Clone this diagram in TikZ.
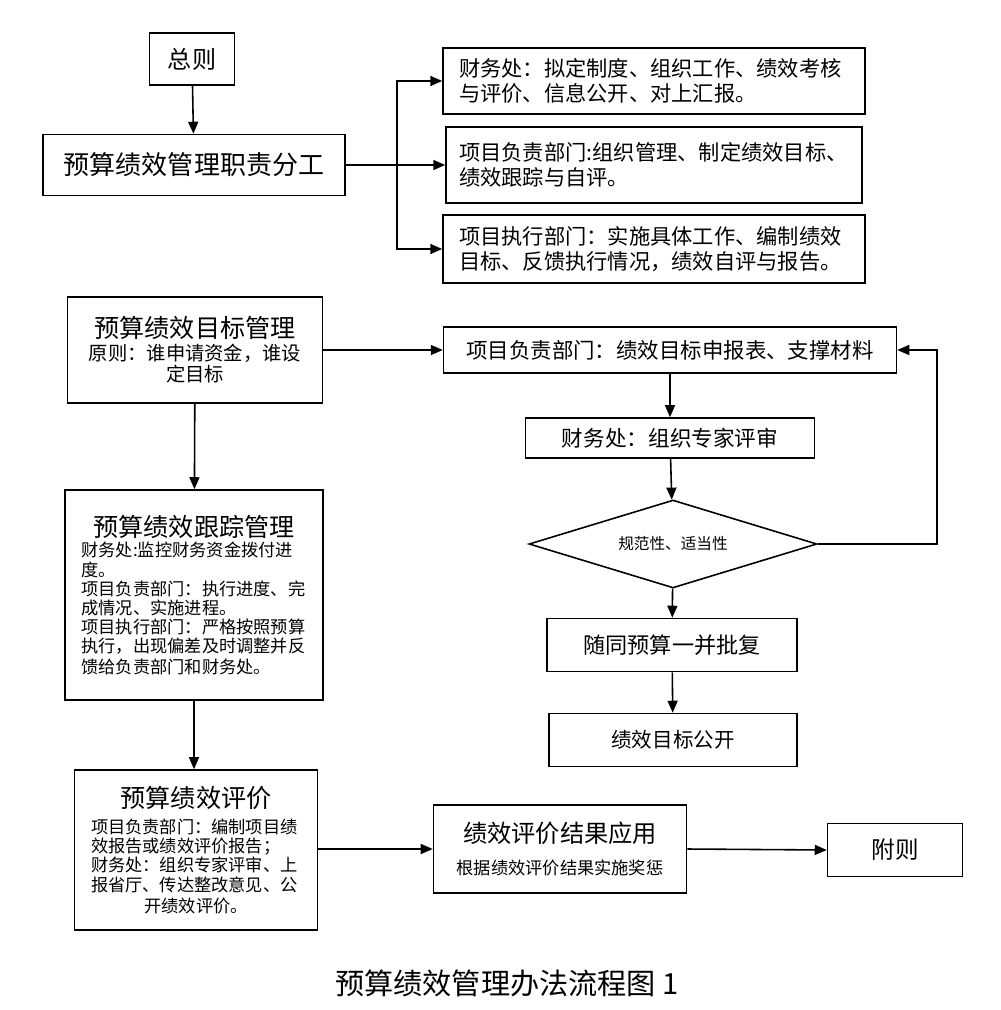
\documentclass[tikz,border=0pt]{standalone}
\usepackage{fontspec}
\setmainfont{Noto Sans CJK SC}
\usetikzlibrary{shapes.geometric,arrows.meta}
\newcommand{\titlefont}{\fontsize{14.3pt}{16pt}\selectfont}
\newcommand{\notefont}{\fontsize{9.8pt}{10.9pt}\selectfont}

\begin{document}
\begin{tikzpicture}
 [x=0.02cm, y=-0.02cm,
  line width=0.9pt,
  box/.style={draw, inner sep=0pt, align=center},
  rbox/.style={draw, inner sep=0pt, align=left, font=\fontsize{12.1pt}{14pt}\selectfont},
  arr/.style={-{Triangle[length=2.4mm,width=2mm]}}]

  \useasboundingbox (0,0) rectangle (1000,1010);

  % top part
  \node[box, font=\fontsize{13.7pt}{15pt}\selectfont, minimum width=1.7cm, minimum height=1.04cm] at (192,59) (gen) {总则};
  \node[box, font=\fontsize{14.8pt}{17pt}\selectfont, minimum width=6.04cm, minimum height=1.22cm] at (194,165) (duty) {预算绩效管理职责分工};

  \node[rbox, minimum width=8.44cm, minimum height=1.32cm, text width=7.8cm] at (654,81) (fin)
    {财务处：拟定制度、组织工作、绩效考核\\与评价、信息公开、对上汇报。};
  \node[rbox, minimum width=8.32cm, minimum height=1.52cm, text width=7.8cm] at (654,165) (resp)
    {项目负责部门:组织管理、制定绩效目标、\\绩效跟踪与自评。};
  \node[rbox, minimum width=8.44cm, minimum height=1.36cm, text width=7.8cm] at (654,249) (exec)
    {项目执行部门：实施具体工作、编制绩效\\目标、反馈执行情况，绩效自评与报告。};

  \draw[arr] (gen) -- (duty);
  \coordinate (br) at (397,165);
  \draw (duty.east) -- (br);
  \draw[arr] (br) |- (fin.west);
  \draw[arr] (br) -- (resp.west);
  \draw[arr] (br) |- (exec.west);

  % left column
  \node[box, minimum width=5.1cm, minimum height=2.12cm, text width=4.8cm] at (195,350) (tgt)
    {{\titlefont 预算绩效目标管理}\\[1pt]\fontsize{11pt}{12pt}\selectfont 原则：谁申请资金，谁设\\定目标};
  \node[box, align=left, minimum width=5.16cm, minimum height=4.2cm, text width=4.5cm] at (194,595) (trk)
    {\makebox[\linewidth]{\titlefont 预算绩效跟踪管理}\\[1pt]\notefont
     财务处:监控财务资金拨付进\\度。\\项目负责部门：执行进度、完\\成情况、实施进程。\\
     项目执行部门：严格按照预算\\执行，出现偏差及时调整并反\\馈给负责部门和财务处。};
  \node[box, align=left, minimum width=4.86cm, minimum height=3.2cm, text width=4.2cm] at (196,850) (evl)
    {\makebox[\linewidth]{\titlefont 预算绩效评价}\\[4pt]\notefont
     项目负责部门：编制项目绩\\效报告或绩效评价报告；\\财务处：组织专家评审、上\\
     报省厅、传达整改意见、公\\\makebox[\linewidth]{开绩效评价。}};

  % right column
  \node[box, font=\fontsize{12.2pt}{14pt}\selectfont, minimum width=9.06cm, minimum height=0.92cm] at (670,350) (decl)
    {项目负责部门：绩效目标申报表、支撑材料};
  \node[box, font=\fontsize{12.3pt}{14pt}\selectfont, minimum width=5.78cm, minimum height=0.8cm] at (670,438) (rev)
    {财务处：组织专家评审};
  \node[draw, diamond, inner sep=0pt, aspect=3.27, minimum width=5.76cm, minimum height=1.76cm,
        font=\fontsize{8.9pt}{10pt}\selectfont] at (673,544) (chk) {规范性、适当性};
  \node[box, font=\fontsize{12.6pt}{14pt}\selectfont, minimum width=5cm, minimum height=1.06cm] at (672,645) (appr)
    {随同预算一并批复};
  \node[box, font=\fontsize{11.7pt}{13pt}\selectfont, minimum width=4.96cm, minimum height=1.06cm] at (673,740) (pub)
    {绩效目标公开};

  % bottom row
  \node[box, minimum width=5.06cm, minimum height=1.76cm] at (560,849) (use)
    {{\fontsize{13.8pt}{15pt}\selectfont 绩效评价结果应用}\\[6pt]\fontsize{9.8pt}{11pt}\selectfont 根据绩效评价结果实施奖惩};
  \node[box, font=\fontsize{13.4pt}{15pt}\selectfont, minimum width=2.7cm, minimum height=1.06cm] at (895,850) (supp) {附则};

  \draw[arr] (tgt.east) -- (decl.west);
  \draw[arr] (decl) -- (rev);
  \draw[arr] (rev) -- (chk);
  \draw[arr] (chk) -- (appr);
  \draw[arr] (appr) -- (pub);
  \draw[arr] (chk.east) -- ++(119,0) |- (decl.east);

  \draw[arr] (tgt) -- (trk);
  \draw[arr] (trk.south) -- (trk.south |- evl.north);
  \draw[arr] (evl.east |- use.west) -- (use.west);
  \draw[arr] (use.east) -- (supp.west);

  \node[font=\fontsize{16.6pt}{18pt}\selectfont] at (507,983) (cap) {预算绩效管理办法流程图 1};
\end{tikzpicture}
\end{document}
